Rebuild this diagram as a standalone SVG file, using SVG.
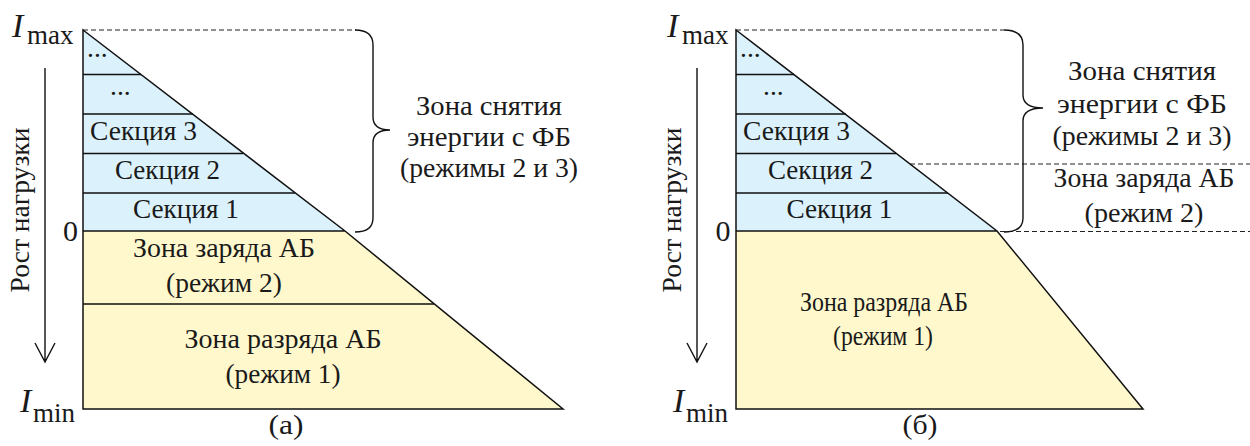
<svg xmlns="http://www.w3.org/2000/svg" width="1250" height="446" viewBox="0 0 1250 446">
<style>
text{font-family:"Liberation Serif","DejaVu Serif","Times New Roman",serif;fill:#1a1a1a;font-size:27.5px}
.c{text-anchor:middle}
.blue{fill:#dbf2fc;stroke:none}
.yel{fill:#fff8cc;stroke:none}
.edge{fill:none;stroke:#111;stroke-width:1.5}
.sec{stroke:#111;stroke-width:1.5}
.dash{stroke:#222;stroke-width:1.2;stroke-dasharray:5 3;fill:none}
.brace{fill:none;stroke:#111;stroke-width:1.4}
.arr{fill:none;stroke:#111;stroke-width:1.4}
.I{font-style:italic;font-size:34px}
.sub{font-size:27px}
</style>
<g id="connectors">
<line class="dash" x1="83" y1="30" x2="356" y2="30"/>
<line class="dash" x1="736" y1="30" x2="1004" y2="30"/>
<line class="dash" x1="910" y1="164" x2="1250" y2="164"/>
<line class="dash" x1="960" y1="231.5" x2="1250" y2="231.5"/>
<path class="arr" d="M45,68 L45,362 M35,343 L45,362 L55,343"/>
<path class="arr" d="M697,68 L697,362 M687,343 L697,362 L707,343"/>
</g>
<g id="diagram-a">
<g id="a-charge-discharge">
<polygon class="yel" points="83,231 345,231 563,409 83,409"/>
<line class="sec" x1="83" y1="304" x2="434" y2="304"/>
<text class="c" x="224" y="257" textLength="182" lengthAdjust="spacingAndGlyphs">Зона заряда АБ</text>
<text class="c" x="224" y="292" textLength="116" lengthAdjust="spacingAndGlyphs">(режим 2)</text>
<text class="c" x="283" y="348" textLength="197" lengthAdjust="spacingAndGlyphs">Зона разряда АБ</text>
<text class="c" x="283" y="383" textLength="115" lengthAdjust="spacingAndGlyphs">(режим 1)</text>
</g>
<g id="a-sections">
<polygon class="blue" points="83,30 345,231 83,231"/>
<line class="sec" x1="83" y1="74.5" x2="141" y2="74.5"/>
<line class="sec" x1="83" y1="114" x2="193" y2="114"/>
<line class="sec" x1="83" y1="153.5" x2="243" y2="153.5"/>
<line class="sec" x1="83" y1="193" x2="295" y2="193"/>
<text x="87" y="57">...</text>
<text x="110" y="95">...</text>
<text class="c" x="143.5" y="140" textLength="107" lengthAdjust="spacingAndGlyphs">Секция 3</text>
<text class="c" x="167.5" y="179" textLength="105" lengthAdjust="spacingAndGlyphs">Секция 2</text>
<text class="c" x="186" y="218" textLength="106" lengthAdjust="spacingAndGlyphs">Секция 1</text>
</g>
<path class="edge" d="M83,30 L345,231 L563,409 L83,409 Z M83,231 L345,231"/>
<g id="a-axis">
<text class="I" x="12" y="37">I</text><text class="sub" x="27" y="44">max</text>
<text class="I" x="20" y="412">I</text><text class="sub" x="33" y="422">min</text>
<text class="c" x="70.5" y="241" style="font-size:30px">0</text>
<text class="c" transform="translate(29,210) rotate(-90)" textLength="165" lengthAdjust="spacingAndGlyphs">Рост нагрузки</text>
<text class="c" x="286" y="434" textLength="35" lengthAdjust="spacingAndGlyphs">(а)</text>
</g>
<g id="a-brace">
<path class="brace" d="M355,30 Q373,30 373,45 L373,117 Q373,130 390,130 Q373,130 373,143 L373,218 Q373,232 355,232"/>
<text class="c" x="489" y="115" textLength="146" lengthAdjust="spacingAndGlyphs">Зона снятия</text>
<text class="c" x="489" y="146" textLength="164" lengthAdjust="spacingAndGlyphs">энергии с ФБ</text>
<text class="c" x="489" y="177" textLength="178" lengthAdjust="spacingAndGlyphs">(режимы 2 и 3)</text>
</g>
</g>
<g id="diagram-b">
<g id="b-discharge">
<polygon class="yel" points="736,231 997,231 1143,409 736,409"/>
<text class="c" x="884" y="311" textLength="168" lengthAdjust="spacingAndGlyphs">Зона разряда АБ</text>
<text class="c" x="883" y="345" textLength="100" lengthAdjust="spacingAndGlyphs">(режим 1)</text>
</g>
<g id="b-sections">
<polygon class="blue" points="736,30 997,231 736,231"/>
<line class="sec" x1="736" y1="74.5" x2="794" y2="74.5"/>
<line class="sec" x1="736" y1="114" x2="846" y2="114"/>
<line class="sec" x1="736" y1="153.5" x2="896" y2="153.5"/>
<line class="sec" x1="736" y1="193" x2="948" y2="193"/>
<text x="740" y="57">...</text>
<text x="763" y="95">...</text>
<text class="c" x="796.5" y="140" textLength="107" lengthAdjust="spacingAndGlyphs">Секция 3</text>
<text class="c" x="820.5" y="179" textLength="105" lengthAdjust="spacingAndGlyphs">Секция 2</text>
<text class="c" x="839.5" y="218" textLength="106" lengthAdjust="spacingAndGlyphs">Секция 1</text>
</g>
<path class="edge" d="M736,30 L997,231 L1143,409 L736,409 Z M736,231 L997,231"/>
<g id="b-axis">
<text class="I" x="667" y="37">I</text><text class="sub" x="682" y="44">max</text>
<text class="I" x="673" y="412">I</text><text class="sub" x="686" y="422">min</text>
<text class="c" x="723" y="241" style="font-size:30px">0</text>
<text class="c" transform="translate(681,210) rotate(-90)" textLength="165" lengthAdjust="spacingAndGlyphs">Рост нагрузки</text>
<text class="c" x="920" y="434" textLength="35" lengthAdjust="spacingAndGlyphs">(б)</text>
</g>
<g id="b-brace">
<path class="brace" d="M1004,30 Q1023,30 1023,45 L1023,95 Q1023,108 1043,108 Q1023,108 1023,121 L1023,218 Q1023,232 1004,232"/>
<text class="c" x="1142" y="80" textLength="148" lengthAdjust="spacingAndGlyphs">Зона снятия</text>
<text class="c" x="1142" y="113" textLength="170" lengthAdjust="spacingAndGlyphs">энергии с ФБ</text>
<text class="c" x="1142" y="145" textLength="179" lengthAdjust="spacingAndGlyphs">(режимы 2 и 3)</text>
<text class="c" x="1144" y="187" textLength="181" lengthAdjust="spacingAndGlyphs">Зона заряда АБ</text>
<text class="c" x="1144" y="222" textLength="119" lengthAdjust="spacingAndGlyphs">(режим 2)</text>
</g>
</g>
</svg>
